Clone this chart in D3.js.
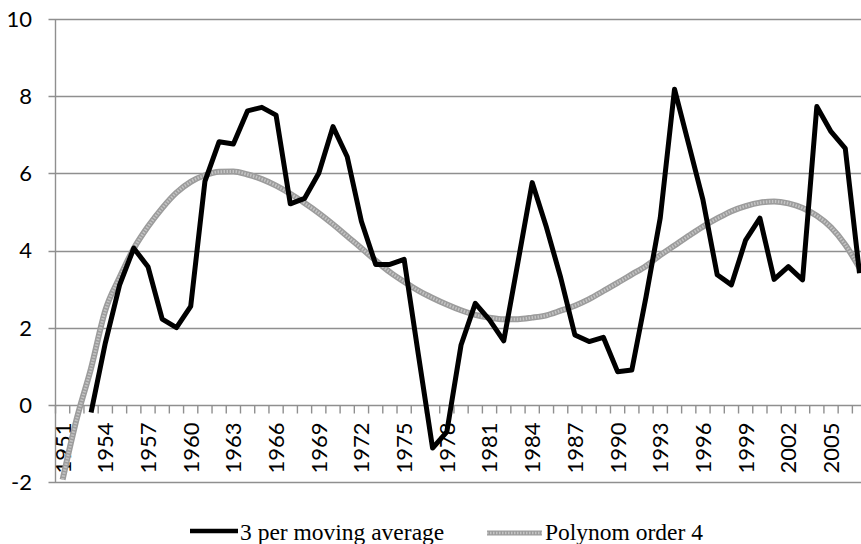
<!DOCTYPE html>
<html>
<head>
<meta charset="utf-8">
<script src="https://cdn.jsdelivr.net/npm/d3@7.9.0/dist/d3.min.js"></script>
<style>
  html, body { margin: 0; padding: 0; background: #fff; overflow: hidden; }
  svg { display: block; }
</style>
</head>
<body>
<svg id="chart" width="861" height="544"></svg>
<script>
// ---- data ----
const years = d3.range(1951, 2008);           // category axis 1951..2007
const labelYears = d3.range(1951, 2008, 3);   // every third year labelled
const yTicks = [-2, 0, 2, 4, 6, 8, 10];

// 3 per moving average, starts 1953
const maYears = d3.range(1953, 2008);
const maValues = [
  -0.2, 1.6, 3.1, 4.06, 3.58, 2.22, 2.0, 2.55, 5.79, 6.82,
  6.76, 7.62, 7.71, 7.51, 5.21, 5.35, 6.0, 7.21, 6.43, 4.75,
  3.64, 3.64, 3.77, 1.3, -1.12, -0.7, 1.55, 2.63, 2.2, 1.66,
  3.7, 5.76, 4.6, 3.3, 1.81, 1.64, 1.75, 0.86, 0.9, 2.8,
  4.85, 8.18, 6.75, 5.31, 3.37, 3.11, 4.27, 4.84, 3.25, 3.58,
  3.24, 7.73, 7.08, 6.65, 3.41
];

// Polynom order 4 trendline, 1951..2007
const polyValues = [
  -1.94, -0.35, 0.95, 2.45, 3.3, 4.05, 4.62, 5.1, 5.5, 5.78,
  5.95, 6.04, 6.05, 5.97, 5.85, 5.68, 5.47, 5.23, 4.97, 4.68,
  4.37, 4.06, 3.74, 3.44, 3.19, 2.96, 2.77, 2.6, 2.45, 2.33,
  2.26, 2.22, 2.22, 2.26, 2.32, 2.44, 2.57, 2.74, 2.95, 3.16,
  3.38, 3.6, 3.88, 4.13, 4.38, 4.62, 4.83, 5.02, 5.15, 5.24,
  5.27, 5.22, 5.1, 4.9, 4.6, 4.15, 3.55
];

const seriesNames = ['3 per moving average', 'Polynom order 4'];

// ---- layout ----
const svg = d3.select('#chart');
const left = 55.5, step = 14.23;
const x = d3.scaleBand().domain(years).range([left, left + years.length * step]).paddingInner(0).paddingOuter(0);
const cx = yr => x(yr) + x.bandwidth() / 2;
const y = d3.scaleLinear().domain([-2, 10]).range([482, 19]);

const gridColor = '#8f8f8f';
const sansFont = 'Lato, Carlito, "DejaVu Sans", sans-serif';
const serifFont = '"Liberation Serif", "Times New Roman", "DejaVu Serif", serif';

// horizontal gridlines
svg.append('g')
  .selectAll('line')
  .data(yTicks)
  .join('line')
  .attr('x1', left - 7).attr('x2', 861)
  .attr('y1', d => Math.round(y(d)) + 0.5).attr('y2', d => Math.round(y(d)) + 0.5)
  .attr('stroke', gridColor).attr('stroke-width', 1.4);

// y axis line
svg.append('line')
  .attr('x1', left).attr('x2', left)
  .attr('y1', y(10)).attr('y2', y(-2))
  .attr('stroke', gridColor).attr('stroke-width', 1.4);

// y tick labels
svg.append('g')
  .selectAll('text')
  .data(yTicks)
  .join('text')
  .attr('font-family', sansFont)
  .attr('font-size', 22)
  .attr('x', 32)
  .attr('y', d => y(d))
  .attr('dy', '0.36em')
  .attr('text-anchor', 'end')
  .text(d => d);

// x axis at y=0 with category tick marks
const y0 = Math.round(y(0)) + 0.5;
svg.append('g')
  .selectAll('line')
  .data(d3.range(years.length + 1))
  .join('line')
  .attr('x1', i => left + i * step).attr('x2', i => left + i * step)
  .attr('y1', y0).attr('y2', y0 + 8)
  .attr('stroke', gridColor).attr('stroke-width', 1.4);

// x labels, rotated
svg.append('g')
  .selectAll('text')
  .data(labelYears)
  .join('text')
  .attr('font-family', sansFont)
  .attr('font-size', 22)
  .attr('transform', d => `translate(${cx(d)},${y0 + 17}) rotate(-90)`)
  .attr('text-anchor', 'end')
  .attr('dy', '0.36em')
  .text(d => d);

// polynomial trendline (textured grey)
const polyLine = d3.line()
  .x((d, i) => cx(years[i]))
  .y(d => y(d))
  .curve(d3.curveMonotoneX);

svg.append('path')
  .attr('d', polyLine(polyValues))
  .attr('fill', 'none')
  .attr('stroke', '#9c9c9c')
  .attr('stroke-width', 6);
svg.append('path')
  .attr('d', polyLine(polyValues))
  .attr('fill', 'none')
  .attr('stroke', '#c4c4c4')
  .attr('stroke-width', 3)
  .attr('stroke-dasharray', '1.5,1.5');

// moving average line
const maLine = d3.line()
  .x((d, i) => cx(maYears[i]))
  .y(d => y(d));

svg.append('path')
  .attr('d', maLine(maValues))
  .attr('fill', 'none')
  .attr('stroke', '#000')
  .attr('stroke-width', 5)
  .attr('stroke-linejoin', 'round');

// legend
const legend = svg.append('g')
  .attr('font-family', serifFont)
  .attr('font-size', 23.5);
legend.append('line')
  .attr('x1', 190).attr('x2', 238).attr('y1', 531).attr('y2', 531)
  .attr('stroke', '#000').attr('stroke-width', 4.5);
legend.append('text')
  .attr('x', 240).attr('y', 540)
  .text(seriesNames[0]);

legend.append('line')
  .attr('x1', 487).attr('x2', 542).attr('y1', 533).attr('y2', 533)
  .attr('stroke', '#9c9c9c').attr('stroke-width', 5);
legend.append('line')
  .attr('x1', 487).attr('x2', 542).attr('y1', 533).attr('y2', 533)
  .attr('stroke', '#c4c4c4').attr('stroke-width', 2.5)
  .attr('stroke-dasharray', '1.5,1.5');
legend.append('text')
  .attr('x', 545).attr('y', 540)
  .text(seriesNames[1]);
</script>
</body>
</html>
